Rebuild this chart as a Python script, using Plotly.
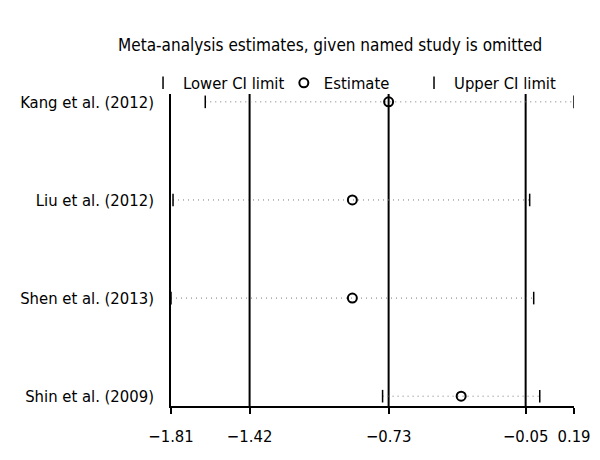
import plotly.graph_objects as go

studies = ["Kang et al. (2012)", "Liu et al. (2012)", "Shen et al. (2013)", "Shin et al. (2009)"]
study_pos = [4, 3, 2, 1]
lower_ci = [-1.64, -1.80, -1.81, -0.76]
estimate = [-0.73, -0.91, -0.91, -0.37]
upper_ci = [0.19, -0.03, -0.01, 0.02]

combined_lines = [-1.42, -0.73, -0.05]
tick_vals = [-1.81, -1.42, -0.73, -0.05, 0.19]
tick_text = ["\u22121.81", "\u22121.42", "\u22120.73", "\u22120.05", "0.19"]

FONT = "DejaVu Sans Condensed, Liberation Sans Narrow, Roboto Condensed, sans-serif"
FS = 16.5

fig = go.Figure()

# dotted connectors
for lo, es, up, y in zip(lower_ci, estimate, upper_ci, study_pos):
    fig.add_trace(go.Scatter(x=[lo, es, up], y=[y, y, y], mode="lines",
                             line=dict(color="#777777", width=1, dash="1px,4px"),
                             showlegend=False, hoverinfo="skip"))

fig.add_trace(go.Scatter(x=lower_ci, y=study_pos, mode="markers", name="Lower CI limit",
                         legend="legend",
                         marker=dict(symbol="line-ns", size=9, line=dict(color="black", width=1.5))))
fig.add_trace(go.Scatter(x=estimate, y=study_pos, mode="markers", name="Estimate",
                         legend="legend2",
                         marker=dict(symbol="circle-open", size=9, color="black", line=dict(color="black", width=2))))
fig.add_trace(go.Scatter(x=upper_ci, y=study_pos, mode="markers", name="Upper CI limit",
                         legend="legend3",
                         marker=dict(symbol="line-ns", size=9, line=dict(color="black", width=1.5))))

for v in combined_lines:
    fig.add_vline(x=v, line=dict(color="black", width=2), layer="below")

leg_common = dict(orientation="h", xanchor="left", y=1.035, yanchor="middle",
                  itemwidth=30, font=dict(family=FONT, size=FS), bgcolor="rgba(0,0,0,0)")

fig.update_layout(
    width=600, height=460,
    margin=dict(l=163, r=34, t=86, b=62),
    paper_bgcolor="white", plot_bgcolor="white",
    font=dict(family=FONT, size=FS, color="black"),
    title=dict(text="Meta-analysis estimates, given named study is omitted",
               x=0.537, xanchor="center", y=0.92, yanchor="middle",
               font=dict(family=FONT, size=17, color="black")),
    legend=dict(x=-0.0694, **leg_common),
    legend2=dict(x=0.280, **leg_common),
    legend3=dict(x=0.603, **leg_common),
    showlegend=True,
)
fig.update_xaxes(range=[-1.81, 0.19], tickvals=tick_vals, ticktext=tick_text, automargin=False,
                 showgrid=False, zeroline=False, showline=True, linecolor="black", linewidth=1.5,
                 ticks="outside", ticklen=6, tickwidth=1.5, tickcolor="black",
                 ticklabelstandoff=8, tickfont=dict(family=FONT, size=FS))
fig.update_yaxes(range=[0.9, 4.08], tickvals=study_pos, ticktext=studies, automargin=False,
                 showgrid=False, zeroline=False, showline=True, linecolor="black", linewidth=1.5,
                 ticks="", ticklabelstandoff=12, tickfont=dict(family=FONT, size=FS))

fig.write_html("out.html")
